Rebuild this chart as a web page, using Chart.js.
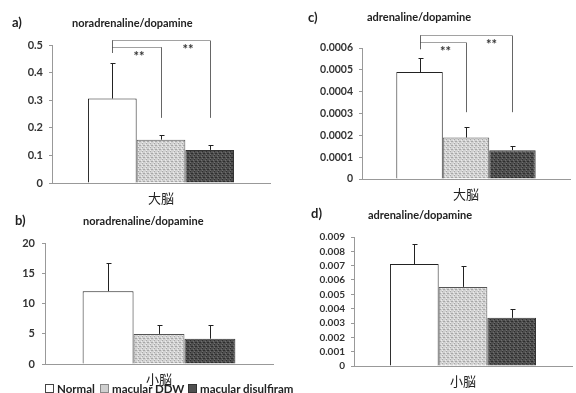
<!DOCTYPE html>
<html>
<head>
<meta charset="utf-8">
<script src="https://cdn.jsdelivr.net/npm/chart.js@4"></script>
<style>
  body { margin:0; background:#fff; width:576px; height:393px; overflow:hidden; position:relative;
         font-family: Lato, "Noto Sans CJK JP", sans-serif; }
  canvas { position:absolute; }
  .t { position:absolute; font-weight:bold; color:#222; white-space:nowrap; line-height:1; transform:translateY(-50%); }
  .lg { position:absolute; top:383px; font-weight:bold; font-size:11.5px; color:#222; white-space:nowrap; line-height:12px; }
  .sw { display:inline-block; width:7px; height:7px; border:1px solid #333; margin-right:3px; vertical-align:0px; }
</style>
</head>
<body>
<canvas id="ca" width="276" height="190" style="left:0;top:25px"></canvas>
<canvas id="cb" width="280" height="175" style="left:0;top:230px"></canvas>
<canvas id="cc" width="276" height="190" style="left:300px;top:25px"></canvas>
<canvas id="cd" width="276" height="180" style="left:300px;top:225px"></canvas>

<div class="t" style="left:12px;top:22px;font-size:13px">a)</div>
<div class="t" style="left:72px;top:22px;font-size:11px">noradrenaline/dopamine</div>
<div class="t" style="left:15px;top:220px;font-size:13px">b)</div>
<div class="t" style="left:83px;top:220px;font-size:11px">noradrenaline/dopamine</div>
<div class="t" style="left:308px;top:17px;font-size:13px">c)</div>
<div class="t" style="left:367px;top:16px;font-size:11px">adrenaline/dopamine</div>
<div class="t" style="left:311px;top:213px;font-size:13px">d)</div>
<div class="t" style="left:368px;top:214px;font-size:11px">adrenaline/dopamine</div>
<div id="legend"></div>

<script>
// Groups compared in every panel
const groups = ['Normal', 'macular DDW', 'macular disulfiram'];
// Brain regions
const cerebrum = ['大脳'];
const cerebellum = ['小脳'];

// a) noradrenaline/dopamine, cerebrum
const noradCerebrum = [0.306, 0.157, 0.120];
const noradCerebrumErr = [0.130, 0.018, 0.018];
// b) noradrenaline/dopamine, cerebellum
const noradCerebellum = [12.1, 5.0, 4.2];
const noradCerebellumErr = [4.7, 1.5, 2.2];
// c) adrenaline/dopamine, cerebrum
const adrCerebrum = [0.000490, 0.000190, 0.000132];
const adrCerebrumErr = [0.000066, 0.000049, 0.000020];
// d) adrenaline/dopamine, cerebellum
const adrCerebellum = [0.00711, 0.00552, 0.00336];
const adrCerebellumErr = [0.00141, 0.00143, 0.00064];

// Y-axis ticks per panel
const ticksA = [0, 0.1, 0.2, 0.3, 0.4, 0.5];
const ticksB = [0, 5, 10, 15, 20];
const ticksC = [0, 0.0001, 0.0002, 0.0003, 0.0004, 0.0005, 0.0006];
const ticksD = [0, 0.001, 0.002, 0.003, 0.004, 0.005, 0.006, 0.007, 0.008, 0.009];

// Significance marks (Normal vs each treated group)
const sigLabels = ['**', '**'];

// Stippled fills
function stipple(base, dot, dot2) {
  const c = document.createElement('canvas');
  c.width = 4; c.height = 4;
  const g = c.getContext('2d');
  g.fillStyle = base; g.fillRect(0, 0, 4, 4);
  g.fillStyle = dot;
  g.fillRect(0, 0, 1, 1); g.fillRect(2, 2, 1, 1); g.fillRect(3, 0, 1, 1);
  g.fillStyle = dot2;
  g.fillRect(1, 3, 1, 1); g.fillRect(2, 1, 1, 1);
  return g.createPattern(c, 'repeat');
}
const fills = [
  '#ffffff',
  stipple('#d2d2d2', '#a8a8a8', '#ececec'),
  stipple('#4f4f4f', '#2e2e2e', '#6e6e6e')
];
const borders = ['#222', '#555', '#333'];

// Upward error bars with a small cap
const errorBars = {
  id: 'errorBars',
  afterDatasetsDraw(chart, args, opts) {
    const ctx = chart.ctx, y = chart.scales.y;
    ctx.save();
    ctx.strokeStyle = '#222';
    ctx.lineWidth = 1;
    chart.data.datasets.forEach((ds, i) => {
      const el = chart.getDatasetMeta(i).data[0];
      const x = Math.round(el.x) + 0.5;
      const top = Math.round(y.getPixelForValue(ds.data[0] + opts.errors[i])) + 0.5;
      ctx.beginPath();
      ctx.moveTo(x, el.y);
      ctx.lineTo(x, top);
      ctx.moveTo(x - 2, top);
      ctx.lineTo(x + 3, top);
      ctx.stroke();
    });
    ctx.restore();
  }
};

// Brackets linking the Normal bar to the treated bars
const brackets = {
  id: 'brackets',
  afterDraw(chart, args, opts) {
    if (!opts.levels) return;
    const ctx = chart.ctx, y = chart.scales.y;
    const xs = chart.data.datasets.map((d, i) => Math.round(chart.getDatasetMeta(i).data[0].x) + 0.5);
    const L = opts.levels;
    const yOuter = Math.round(y.getPixelForValue(L.outer)) + 0.5;
    const yInner = Math.round(y.getPixelForValue(L.inner)) + 0.5;
    const yStart = y.getPixelForValue(L.start);
    const yDrop = y.getPixelForValue(L.drop);
    ctx.save();
    ctx.lineWidth = 1;
    ctx.strokeStyle = '#666';
    ctx.beginPath();
    ctx.moveTo(xs[0], yOuter); ctx.lineTo(xs[0], yStart);
    ctx.moveTo(xs[1], yInner); ctx.lineTo(xs[1], yDrop);
    ctx.moveTo(xs[2], yOuter); ctx.lineTo(xs[2], yDrop);
    ctx.stroke();
    ctx.strokeStyle = '#444';
    ctx.setLineDash([1, 1]);
    ctx.beginPath();
    ctx.moveTo(xs[0], yOuter); ctx.lineTo(xs[2], yOuter);
    ctx.moveTo(xs[0], yInner); ctx.lineTo(xs[1], yInner);
    ctx.stroke();
    ctx.setLineDash([]);
    ctx.fillStyle = '#333';
    ctx.font = 'bold 13px Lato';
    ctx.textAlign = 'center';
    ctx.textBaseline = 'middle';
    ctx.fillText(sigLabels[0], (xs[0] + xs[1]) / 2 + 2, yInner + 9);
    ctx.fillText(sigLabels[1], (xs[1] + xs[2]) / 2 + 2, yOuter + 9);
    ctx.restore();
  }
};

function panel(id, region, values, errs, ticks, cfg) {
  const max = ticks[ticks.length - 1];
  return new Chart(document.getElementById(id), {
    type: 'bar',
    data: {
      labels: region,
      datasets: groups.map((g, i) => ({
        label: g,
        data: [values[i]],
        backgroundColor: fills[i],
        borderColor: borders[i],
        borderWidth: 1,
        borderSkipped: 'bottom',
        categoryPercentage: 0.67,
        barPercentage: 1.0
      }))
    },
    options: {
      responsive: false,
      animation: false,
      layout: { padding: { top: cfg.padTop, right: cfg.padRight, left: 0, bottom: cfg.padBottom } },
      plugins: {
        legend: { display: false },
        tooltip: { enabled: false },
        errorBars: { errors: errs },
        brackets: { levels: cfg.levels }
      },
      scales: {
        x: {
          grid: { display: false },
          border: { display: true, color: '#999', dash: [1, 1] },
          ticks: { color: '#222', font: { size: 13, family: '"Noto Sans CJK JP"' }, padding: cfg.xPad },
          afterFit(s) { s.height = cfg.xH; }
        },
        y: {
          min: 0, max: max,
          afterBuildTicks(s) { s.ticks = ticks.map(v => ({ value: v })); },
          grid: { display: true, drawOnChartArea: false, drawTicks: true, tickLength: 3, color: '#999' },
          border: { display: true, color: '#999', dash: [1, 1] },
          ticks: {
            color: '#333', padding: cfg.yPad, autoSkip: false,
            font: { size: cfg.tickSize, weight: 'bold', family: 'Lato' },
            callback: v => String(v)
          },
          afterFit(s) { s.width = cfg.yW; }
        }
      }
    },
    plugins: [errorBars, brackets]
  });
}

const charts = [
  panel('ca', cerebrum, noradCerebrum, noradCerebrumErr, ticksA,
    { padTop: 20, padRight: 6, padBottom: 10, xH: 22, xPad: -1, yW: 52, yPad: 6, tickSize: 11,
      levels: { outer: 0.518, inner: 0.494, start: 0.471, drop: 0.236 } }),
  panel('cb', cerebellum, noradCerebellum, noradCerebellumErr, ticksB,
    { padTop: 11, padRight: 7, padBottom: 12, xH: 29, xPad: -1, yW: 45, yPad: 7, tickSize: 11 }),
  panel('cc', cerebrum, adrCerebrum, adrCerebrumErr, ticksC,
    { padTop: 23, padRight: 6, padBottom: 10, xH: 26, xPad: -1, yW: 62, yPad: 6, tickSize: 10.5,
      levels: { outer: 0.000658, inner: 0.000627, start: 0.000594, drop: 0.000306 } }),
  panel('cd', cerebellum, adrCerebellum, adrCerebellumErr, ticksD,
    { padTop: 9, padRight: 4, padBottom: 12, xH: 27, xPad: -1, yW: 54, yPad: 6, tickSize: 10 })
];

// Redraw once the CJK and Latin faces are ready
if (document.fonts && document.fonts.load) {
  Promise.all([
    document.fonts.load('13px "Noto Sans CJK JP"', '大脳小'),
    document.fonts.load('bold 11px Lato', '0123456789.')
  ]).then(() => charts.forEach(c => c.update('none'))).catch(() => {});
}

// Legend under panel b
const legendX = [45, 100, 188];
const lg = document.getElementById('legend');
groups.forEach((g, i) => {
  const d = document.createElement('div');
  d.className = 'lg';
  d.style.left = legendX[i] + 'px';
  const sw = document.createElement('span');
  sw.className = 'sw';
  sw.style.background = i === 0 ? '#fff' : (i === 1 ? '#cfcfcf' : '#505050');
  sw.style.borderColor = i === 0 ? '#444' : (i === 1 ? '#888' : '#333');
  d.appendChild(sw);
  d.appendChild(document.createTextNode(g));
  lg.appendChild(d);
});
</script>
</body>
</html>
